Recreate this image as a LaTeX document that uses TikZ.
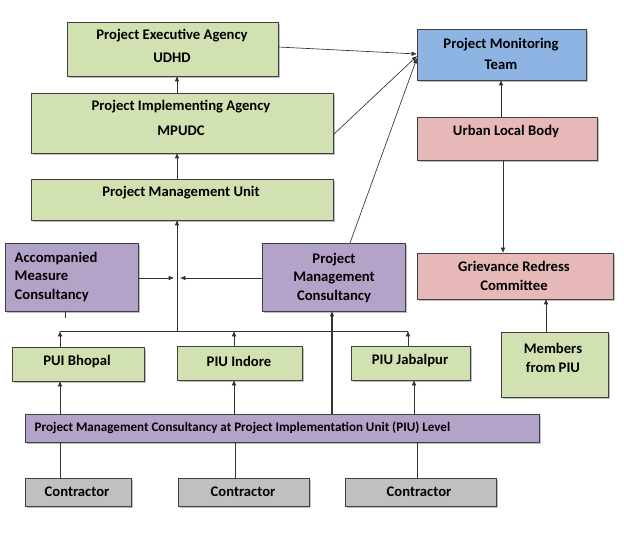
\documentclass[tikz,border=0pt]{standalone}
\usepackage{fontspec}
\setmainfont{Carlito}
\usetikzlibrary{shadows,arrows.meta}
\definecolor{gr}{HTML}{D2E1B2}
\definecolor{pu}{HTML}{B4A3C9}
\definecolor{bl}{HTML}{8DB4E2}
\definecolor{pk}{HTML}{E6B9B8}
\definecolor{gy}{HTML}{C0C0C0}
\tikzset{
 box/.style={draw=black!75, line width=0.6pt, drop shadow={shadow xshift=1.2pt,shadow yshift=-1.2pt,opacity=0.5}},
 lbl/.style={font=\bfseries\fontsize{11}{14}\selectfont, align=center},
 con/.style={draw=black!80, line width=0.5pt},
 arr/.style={con, -{Latex[length=4pt,width=3.5pt]}},
}
\begin{document}
\begin{tikzpicture}[x=0.75pt,y=-0.75pt]
\useasboundingbox (0,0) rectangle (624,534);
\newcommand\bx[6]{\filldraw[box,fill=#6] (#2,#3) rectangle (#4,#5); \coordinate (#1) at ({(#2+#4)/2},{(#3+#5)/2});}
% boxes
\bx{pea}{67}{22}{278}{76}{gr}
\bx{pia}{31}{93}{333}{153}{gr}
\bx{pmu}{31}{179}{333}{220}{gr}
\bx{amc}{5}{243}{138}{311}{pu}
\bx{pmc}{262}{243}{405}{311}{pu}
\bx{pmt}{417}{29}{586}{80}{bl}
\bx{ulb}{417}{117}{597}{160}{pk}
\bx{grc}{417}{253}{613}{299}{pk}
\bx{mem}{501}{332}{608}{397}{gr}
\bx{bho}{12}{347}{144}{381}{gr}
\bx{ind}{177}{346}{302}{380}{gr}
\bx{jab}{351}{346}{470}{380}{gr}
\bx{bar}{25}{414}{539}{442}{pu}
\bx{c1}{25}{478}{131}{506}{gy}
\bx{c2}{178}{478}{309}{506}{gy}
\bx{c3}{345}{478}{496}{506}{gy}
% labels
\node[lbl] (tpea) at (172,46) {Project Executive Agency\\[3pt]UDHD};
\node[lbl] (tpia) at (181,118) {Project Implementing Agency\\[5pt]MPUDC};
\node[lbl] (tpmu) at (181,193) {Project Management Unit};
\node[lbl,align=left,anchor=west] (tamc) at (10,277) {Accompanied\\Measure\\Consultancy};
\node[lbl] (tpmc) at (334,278) {Project\\Management\\Consultancy};
\node[lbl] (tpmt) at (501,54) {Project Monitoring\\[2pt]Team};
\node[lbl] (tulb) at (506,132) {Urban Local Body};
\node[lbl] (tgrc) at (514,276) {Grievance Redress\\Committee};
\node[lbl] (tmem) at (553,358) {Members\\from PIU};
\node[lbl] (tbho) at (77,362) {PUI Bhopal};
\node[lbl] (tind) at (239,361) {PIU Indore};
\node[lbl] (tjab) at (410,361) {PIU Jabalpur};
\node[lbl,font=\bfseries\fontsize{9.8}{12}\selectfont,anchor=west] (tbar) at (30,428) {Project Management Consultancy at Project Implementation Unit (PIU) Level};
\node[lbl] (tc1) at (77,492) {Contractor};
\node[lbl] (tc2) at (243,492) {Contractor};
\node[lbl] (tc3) at (419,492) {Contractor};
% connectors
\coordinate (hub) at (177,278);
\coordinate (jn) at (177,331);
\coordinate (hl) at (60,331);
\coordinate (hr) at (408,331);
\draw[arr] (177,93) -- (177,76);
\draw[arr] (177,179) -- (177,153);
\draw[arr] (jn) -- (177,220);
\draw[arr] (138,278) -- (174,278);
\draw[arr] (262,278) -- (180,278);
\draw[con] (hl) -- (hr);
\draw[arr] (60,347) -- (hl);
\draw[arr] (234,346) -- (234,331);
\draw[arr] (408,346) -- (hr);
\draw[arr] (60,414) -- (60,381);
\draw[arr] (234,414) -- (234,380);
\draw[arr] (414,414) -- (414,380);
\draw[arr,line width=1.2pt] (332,414) -- (332,311);
\draw[con] (60,478) -- (60,442);
\draw[con] (235,478) -- (235,442);
\draw[con] (417,478) -- (417,442);
\draw[arr] (278,47) -- (417,54);
\draw[arr] (333,135) -- (417,56);
\draw[arr] (350,243) -- (417,58);
\draw[arr] (501,117) -- (501,80);
\draw[arr] (503,160) -- (503,253);
\draw[arr] (546,332) -- (546,299);
\draw[con] (65,311) -- (65,318);
\end{tikzpicture}
\end{document}
